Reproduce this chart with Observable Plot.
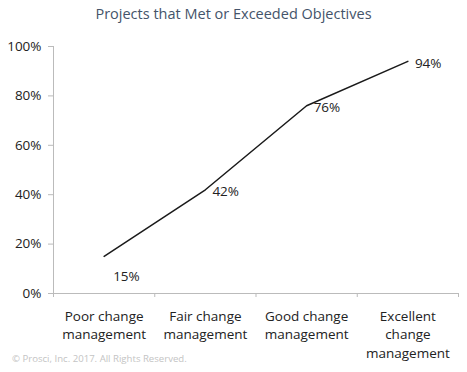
<!DOCTYPE html>
<html><head><meta charset="utf-8">
<script src="https://cdn.jsdelivr.net/npm/d3@7"></script>
<script src="https://cdn.jsdelivr.net/npm/@observablehq/plot@0.6"></script>
<style>
body{margin:0;background:#fff;font-family:"Open Sans",sans-serif;}
#wrap{position:relative;width:467px;height:372px;overflow:hidden;}
#title{height:28px;line-height:28px;text-align:center;font-size:14.5px;color:#44546a;}
#caption{position:absolute;left:12px;top:352px;font-size:9.6px;color:#c4c4c4;}
</style></head>
<body><div id="wrap"><div id="title">Projects that Met or Exceeded Objectives</div><div id="chart"></div><div id="caption">© Prosci, Inc. 2017. All Rights Reserved.</div></div>
<script>
const categories = ["Poor change\nmanagement","Fair change\nmanagement","Good change\nmanagement","Excellent\nchange\nmanagement"];
const values = [15, 42, 76, 94];
const yTicks = [0, 20, 40, 60, 80, 100];

const data = categories.map((c, i) => ({cat: c, pos: i + 0.5, v: values[i], i}));

const chart = Plot.plot({
  width: 467, height: 344,
  marginTop: 18, marginBottom: 79, marginLeft: 53, marginRight: 9,
  style: {fontFamily: "Open Sans, sans-serif", color: "#222", background: "#fff"},
  x: {domain: [0, categories.length], label: null},
  y: {domain: [0, 100], label: null},
  marks: [
    Plot.axisY({ticks: yTicks, tickFormat: d => d + "%", tickSize: 5, tickPadding: 7, stroke: "#bbb", fontSize: 13.5, fill: "#222", label: null}),
    Plot.axisX({ticks: d3.range(categories.length + 1), tickFormat: () => "", tickSize: 4, stroke: "#bbb", label: null}),
    Plot.axisX({ticks: data.map(d => d.pos), tickFormat: (d, i) => categories[i], tickSize: 0, tickPadding: 14, fontSize: 13.5, lineHeight: 1.37, fill: "#222", textAnchor: "middle", label: null}),
    Plot.ruleY([0], {stroke: "#bbb"}),
    Plot.ruleX([0], {stroke: "#bbb"}),
    Plot.line(data, {x: "pos", y: "v", stroke: "#1a1a1a", strokeWidth: 1.5}),
    Plot.text(data.filter(d => d.i === 0), {x: "pos", y: "v", text: d => d.v + "%", textAnchor: "start", dx: 9, dy: 20, fontSize: 13.5, fill: "#222"}),
    Plot.text(data.filter(d => d.i > 0), {x: "pos", y: "v", text: d => d.v + "%", textAnchor: "start", dx: 7, dy: 2, fontSize: 13.5, fill: "#222"})
  ]
});
document.getElementById("chart").appendChild(chart);
</script></body></html>
